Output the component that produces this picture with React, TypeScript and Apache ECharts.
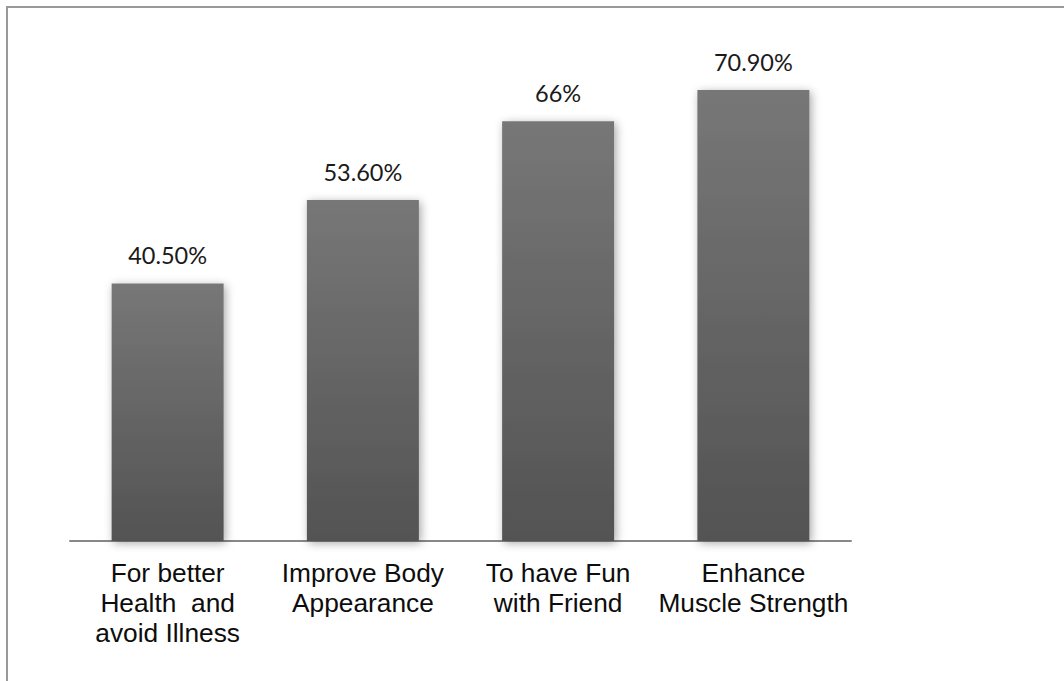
import React, { useEffect, useRef } from "react";
import * as echarts from "echarts";

const categories = [
  "For better\nHealth  and\navoid Illness",
  "Improve Body\nAppearance",
  "To have Fun\nwith Friend",
  "Enhance\nMuscle Strength",
];
const values = [40.5, 53.6, 66, 70.9];
const valueLabels = ["40.50%", "53.60%", "66%", "70.90%"];

export default function App() {
  const ref = useRef<HTMLDivElement>(null);
  useEffect(() => {
    if (!ref.current) return;
    const chart = echarts.init(ref.current, null, { renderer: "svg" });
    chart.setOption({
      animation: false,
      backgroundColor: "#ffffff",
      grid: { left: 70, right: 213, top: 32.2, bottom: 140 },
      graphic: [
        { type: "rect", shape: { x: 6, y: 6, width: 1058, height: 2 }, style: { fill: "#999999" } },
        { type: "rect", shape: { x: 6, y: 6, width: 2, height: 675 }, style: { fill: "#999999" } },
      ],
      xAxis: {
        type: "category",
        data: categories,
        axisLine: { show: true, lineStyle: { color: "#888888", width: 2 } },
        axisTick: { show: false },
        axisLabel: {
          interval: 0,
          margin: 17,
          color: "#0d0d0d",
          fontFamily: "Liberation Sans",
          fontSize: 26.3,
          lineHeight: 30,
        },
      },
      yAxis: {
        type: "value",
        min: 0,
        max: 80,
        show: false,
        splitLine: { show: false },
      },
      series: [
        {
          type: "bar",
          data: values,
          barWidth: 112,
          itemStyle: {
            color: new echarts.graphic.LinearGradient(0, 0, 0, 1, [
              { offset: 0, color: "#777777" },
              { offset: 1, color: "#535353" },
            ]),
            shadowBlur: 10,
            shadowOffsetX: 2,
            shadowOffsetY: 2,
            shadowColor: "rgba(0,0,0,0.35)",
          },
          label: {
            show: true,
            position: "top",
            distance: 16,
            formatter: (p: any) => valueLabels[p.dataIndex],
            color: "#1a1a1a",
            fontFamily: "Lato",
            fontSize: 23.5,
          },
        },
      ],
    });
    return () => chart.dispose();
  }, []);
  return (
    <div
      ref={ref}
      style={{ position: "fixed", left: 0, top: 0, width: 1064, height: 681 }}
    />
  );
}
